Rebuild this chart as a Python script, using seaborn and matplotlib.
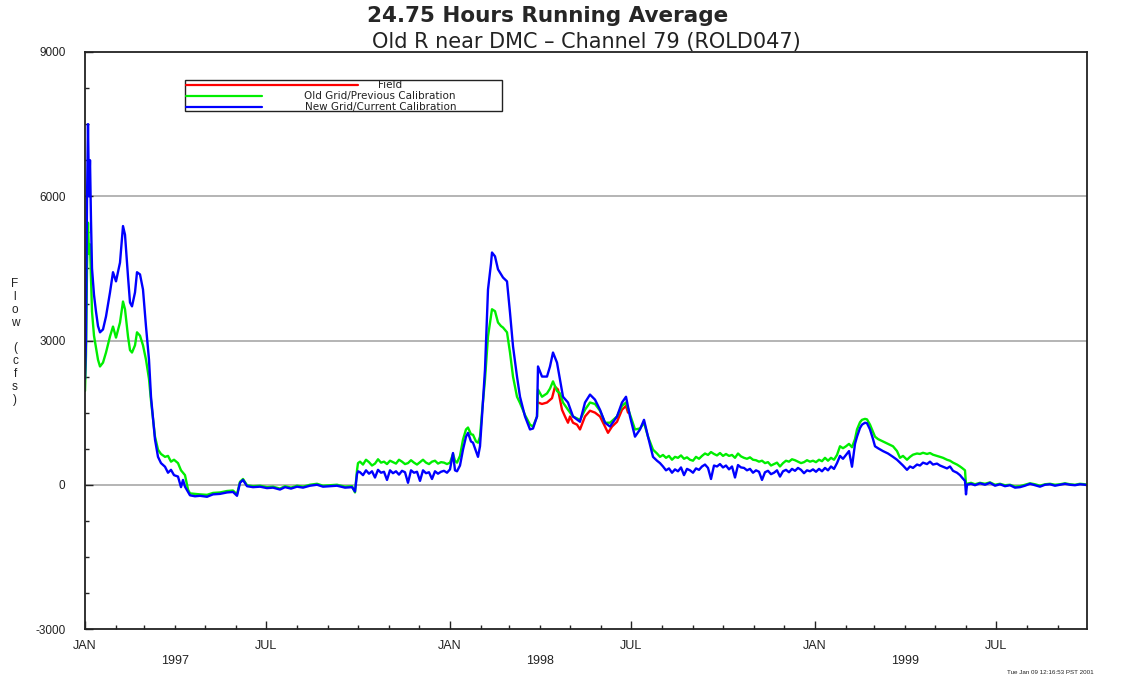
import pandas as pd
import matplotlib
matplotlib.use('Agg')
import matplotlib.pyplot as plt
import matplotlib.dates as mdates
import matplotlib.transforms as mtransforms
import seaborn as sns

# Days since 1997-01-01, shared by both model runs
model_days = [0, 1, 2, 3, 4, 5, 6, 7, 9, 11, 13, 15, 18, 21, 25, 28, 31, 35, 38, 40,
              43, 45, 47, 50, 52, 55, 58, 61, 64, 66, 70, 73, 76, 80, 83, 86, 89, 93, 96, 98,
              100, 103, 105, 110, 115, 122, 128, 135, 142, 148, 152, 155, 158, 162, 168, 175, 182, 188, 195, 200,
              206, 212, 218, 225, 232, 238, 245, 252, 260, 267, 270, 272, 273, 275, 278, 281, 284, 287, 290, 293,
              296, 299, 302, 305, 308, 311, 314, 317, 320, 323, 326, 329, 332, 335, 338, 341, 344, 347, 350, 353,
              356, 359, 362, 365, 368, 370, 372, 375, 378, 381, 383, 386, 388, 391, 393, 395, 397, 400, 403, 406,
              407, 410, 413, 416, 418, 422, 425, 428, 432, 435, 440, 445, 448, 452, 453, 457, 462, 465, 468, 472,
              475, 478, 483, 488, 495, 500, 505, 510, 515, 520, 525, 532, 537, 541, 545, 550, 555, 559, 563, 568,
              572, 575, 578, 581, 584, 587, 590, 593, 596, 599, 602, 605, 608, 611, 614, 617, 620, 623, 626, 629,
              632, 635, 638, 641, 644, 647, 650, 653, 656, 659, 662, 665, 668, 671, 674, 677, 680, 683, 686, 689,
              692, 695, 698, 701, 704, 707, 710, 713, 716, 719, 722, 725, 728, 731, 734, 737, 740, 743, 746, 749,
              752, 755, 758, 761, 764, 767, 770, 772, 775, 777, 780, 782, 785, 788, 790, 793, 798, 803, 808, 812,
              815, 818, 822, 825, 828, 832, 835, 838, 842, 845, 848, 852, 855, 858, 862, 865, 868, 872, 875, 877,
              880, 881, 882, 886, 890, 895, 900, 905, 910, 915, 920, 925, 930, 935, 940, 945, 950, 955, 960, 965,
              970, 975, 980, 985, 990, 995, 1000, 1002]

new_grid = [2200, 3000, 5900, 7500, 6000, 6750, 5500, 4500, 3950, 3600, 3300, 3170, 3230, 3500, 4000, 4420, 4230, 4620, 5380, 5200,
            4330, 3790, 3710, 4000, 4420, 4375, 4060, 3290, 2600, 1830, 940, 580, 450, 375, 250, 310, 200, 170, -50, 100,
            -40, -150, -220, -240, -230, -250, -200, -190, -160, -150, -230, 40, 100, -30, -50, -40, -70, -60, -100, -50,
            -80, -40, -60, -20, 0, -40, -30, -20, -60, -50, -140, 220, 280, 260, 200, 300, 230, 280, 150, 310,
            250, 270, 100, 300, 240, 280, 210, 290, 260, 40, 300, 250, 270, 80, 300, 240, 260, 120, 280, 230,
            270, 290, 250, 320, 660, 300, 280, 400, 730, 1000, 1080, 900, 875, 700, 580, 800, 1420, 2400, 4060, 4600,
            4830, 4750, 4480, 4380, 4310, 4230, 3580, 2880, 2250, 1830, 1420, 1150, 1170, 1420, 2460, 2250, 2250, 2460, 2750, 2540,
            2190, 1830, 1710, 1420, 1310, 1710, 1875, 1770, 1560, 1290, 1210, 1420, 1710, 1830, 1420, 1000, 1150, 1350, 1000, 580,
            500, 450, 380, 300, 340, 250, 320, 280, 360, 200, 330, 300, 250, 340, 310, 380, 420, 350, 120, 400,
            380, 430, 360, 400, 320, 380, 150, 410, 360, 350, 300, 330, 250, 300, 270, 100, 260, 290, 220, 250,
            300, 170, 280, 310, 260, 330, 290, 350, 310, 240, 300, 280, 320, 270, 330, 280, 350, 300, 380, 330,
            450, 600, 540, 620, 700, 375, 850, 1000, 1180, 1250, 1290, 1280, 1150, 950, 800, 760, 700, 650, 580, 520,
            460, 400, 310, 380, 350, 420, 400, 460, 430, 480, 420, 440, 400, 375, 340, 380, 290, 250, 200, 150,
            80, -200, 0, 20, -10, 30, 0, 40, -20, 10, -30, -10, -60, -50, -20, 20, -10, -40, 0, 10,
            -20, 0, 20, 0, -10, 10, 0, -10]

old_grid = [1950, 2700, 4500, 5450, 4800, 5000, 4300, 3600, 3100, 2850, 2600, 2460, 2540, 2750, 3085, 3290, 3060, 3375, 3810, 3650,
            3085, 2800, 2750, 2900, 3170, 3100, 2900, 2600, 2200, 1750, 1000, 730, 640, 580, 600, 480, 520, 450, 300, 250,
            200, -100, -180, -190, -200, -210, -170, -160, -130, -120, -200, 60, 120, -10, -30, -20, -50, -40, -80, -30,
            -60, -20, -40, 0, 20, -20, -10, 0, -40, -30, -160, 300, 450, 480, 420, 520, 470, 400, 440, 530,
            460, 480, 430, 500, 470, 440, 520, 480, 430, 450, 510, 460, 420, 470, 520, 460, 430, 480, 500, 440,
            470, 460, 430, 460, 640, 500, 460, 600, 940, 1150, 1190, 1050, 1040, 900, 875, 1000, 1500, 2190, 3085, 3500,
            3650, 3610, 3375, 3300, 3270, 3170, 2750, 2250, 1830, 1700, 1450, 1250, 1210, 1420, 1980, 1830, 1900, 2000, 2150, 1950,
            1900, 1710, 1560, 1420, 1350, 1560, 1710, 1680, 1540, 1290, 1290, 1420, 1640, 1710, 1460, 1150, 1170, 1290, 1000, 730,
            650, 580, 620, 560, 600, 520, 580, 560, 610, 540, 570, 520, 500, 580, 540, 600, 650, 620, 680, 640,
            610, 660, 600, 640, 600, 620, 560, 650, 590, 560, 540, 570, 520, 510, 480, 500, 450, 470, 400, 430,
            460, 380, 450, 500, 480, 530, 510, 480, 450, 470, 510, 480, 500, 470, 520, 490, 560, 500, 560, 520,
            620, 800, 760, 800, 850, 780, 950, 1150, 1300, 1350, 1370, 1360, 1250, 1100, 1000, 950, 900, 850, 800, 700,
            560, 600, 520, 580, 625, 650, 640, 665, 640, 660, 625, 600, 580, 560, 520, 500, 460, 420, 380, 350,
            300, 0, 20, 40, 10, 40, 20, 50, 0, 20, -10, 0, -40, -30, 0, 30, 10, -20, 10, 20,
            0, 10, 30, 10, 0, 20, 10, 0]

field_days = [453, 457, 462, 467, 470, 473, 477, 480, 483, 485, 488, 492, 495, 500, 505, 510, 515, 520, 523, 527,
              532, 537, 541, 543]
field = [1710, 1680, 1710, 1800, 2040, 1980, 1560, 1420, 1290, 1420, 1290, 1250, 1150, 1420, 1540, 1500, 1420, 1210, 1080, 1210,
         1310, 1560, 1640, 1500]

legend_labels = ['Field', 'Old Grid/Previous Calibration', 'New Grid/Current Calibration']
year_labels = ['1997', '1998', '1999']

START = pd.Timestamp('1997-01-01')

def to_frame(days, values):
    return pd.DataFrame({'date': START + pd.to_timedelta(days, unit='D'), 'cfs': values})

sns.set_style('white')
plt.rcParams['font.family'] = ['Liberation Sans', 'DejaVu Sans']
plt.rcParams['axes.unicode_minus'] = False

fig = plt.figure(figsize=(11.25, 6.8), dpi=100)
ax = fig.add_axes([85 / 1125, 1 - 629 / 680, 1002 / 1125, 577 / 680])

colors = ['#ff0000', '#00ee00', '#0000ff']
series = [to_frame(field_days, field), to_frame(model_days, old_grid), to_frame(model_days, new_grid)]
for df, c in zip(series, colors):
    sns.lineplot(x='date', y='cfs', data=df, ax=ax, color=c, lw=1.7, estimator=None)

# horizontal reference lines
for v in [0, 3000, 6000]:
    ax.axhline(v, color='#b4b4b4', lw=1.4, zorder=0)

ax.set_ylim(-3000, 9000)
ax.set_xlim(START, pd.Timestamp('1999-09-30'))
ax.set_yticks([-3000, 0, 3000, 6000, 9000])
ax.set_yticks(range(-3000, 9001, 750), minor=True)
ax.xaxis.set_major_locator(mdates.MonthLocator(bymonth=[1, 7]))
ax.xaxis.set_minor_locator(mdates.MonthLocator())
ax.xaxis.set_major_formatter(plt.FuncFormatter(lambda x, p: mdates.num2date(x).strftime('%b').upper()))
ax.tick_params(axis='both', which='both', bottom=True, left=True, top=False, right=False)
ax.tick_params(axis='both', which='major', direction='in', length=5.5, width=1, colors='#222222', labelsize=8.5)
ax.tick_params(axis='both', which='minor', direction='in', length=3, width=1, colors='#222222')
ax.tick_params(axis='y', which='major', pad=14)
ax.tick_params(axis='x', which='major', pad=8, labelsize=9)
ax.set_xlabel('')
ax.set_ylabel('')
for s in ax.spines.values():
    s.set_color('#222222')
    s.set_linewidth(1.3)

# year labels under the months
trans = mtransforms.blended_transform_factory(ax.transData, fig.transFigure)
for yr in year_labels:
    ax.text(mdates.date2num(pd.Timestamp(yr + '-04-01')), 1 - 661 / 680, yr,
            transform=trans, ha='center', va='center', fontsize=9, color='#222222')

# stacked y label
fig.text(15 / 1125, 1 - 342 / 680, '\n'.join('Flow (cfs)'), ha='center', va='center',
         fontsize=8.5, linespacing=1.1, color='#222222')

fig.text(548 / 1125, 1 - 16 / 680, '24.75 Hours Running Average', ha='center', va='center',
         fontsize=15.5, fontweight='bold', family=['DejaVu Sans'])
fig.text(586 / 1125, 1 - 42 / 680, 'Old R near DMC \u2013 Channel 79 (ROLD047)', ha='center', va='center',
         fontsize=15, color='#222222', family=['DejaVu Sans'])
fig.text(1050 / 1125, 1 - 673 / 680, 'Tue Jan 09 12:16:53 PST 2001', ha='center', va='center',
         fontsize=4.5, color='#222222')

# legend box drawn like the original plot program
lx0, lx1 = 185 / 1125, 502 / 1125
ly0, ly1 = 1 - 111 / 680, 1 - 80 / 680
fig.patches.append(plt.Rectangle((lx0, ly0), lx1 - lx0, ly1 - ly0, transform=fig.transFigure,
                                 fill=False, edgecolor='#222222', lw=1.0))
rows = [85, 96, 107]
line_ends = [358, 262, 262]
text_x = [390, 380, 381]
for lab, c, r, le, tx in zip(legend_labels, colors, rows, line_ends, text_x):
    yy = 1 - r / 680
    fig.add_artist(plt.Line2D([lx0 + 0.001, le / 1125], [yy, yy], transform=fig.transFigure, color=c, lw=1.6))
    fig.text(tx / 1125, yy, lab, ha='center', va='center', fontsize=7.5,
             color='#222222', family=['DejaVu Sans'])

fig.savefig('out.png', dpi=100)
